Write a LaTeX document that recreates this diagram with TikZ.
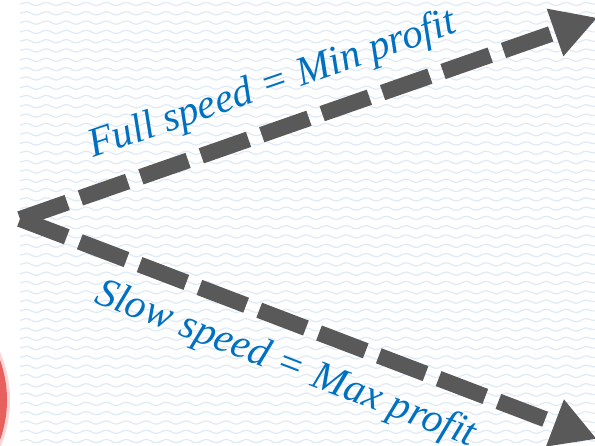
\documentclass[tikz,border=0pt]{standalone}
\usepackage{fontspec}
\newfontfamily\labelfont{Liberation Serif}
\usetikzlibrary{arrows.meta,decorations.pathmorphing}
\definecolor{arrowgray}{HTML}{595959}
\definecolor{labelblue}{HTML}{0070C0}
\definecolor{wavecol}{HTML}{DFEAF7}
\definecolor{dotred}{HTML}{E8605E}
\begin{document}
\begin{tikzpicture}[x=1pt,y=-1pt,
  wave/.style={wavecol, line width=1.2pt, decorate,
    decoration={snake, segment length=20pt, amplitude=1.6pt}},
  flow/.style={arrowgray, line width=16pt, dash pattern=on 50pt off 14pt,
    -{Triangle[length=45pt,width=47pt]}},
  lbl/.style={labelblue, font=\labelfont\fontsize{41}{46}\selectfont\itshape,
    inner sep=0pt, anchor=base west}]
\useasboundingbox (0,0) rectangle (595,446);
\clip (0,0) rectangle (595,446);
\fill[white] (0,0) rectangle (595,446);
% wavy background texture
\foreach \i in {0,...,48}
  \draw[wave] (20,4+\i*9.3) -- (600,4+\i*9.3);
% red disc at the left edge
\fill[dotred!25] (-111,400) circle (121);
\fill[dotred] (-111,400) circle (118);
% the two diverging arrows
\coordinate (fork) at (20,219);
\coordinate (upTip) at (597.5,17.7);
\coordinate (downTip) at (597,439);
\draw[flow] (fork) -- (upTip);
\draw[flow] (fork) -- (downTip);
% labels
\node[lbl, rotate=19] (fullTxt) at (93,158) {Full speed = Min profit};
\node[lbl, rotate=-21] (slowTxt) at (93,302) {Slow speed = Max profit};
\end{tikzpicture}
\end{document}
